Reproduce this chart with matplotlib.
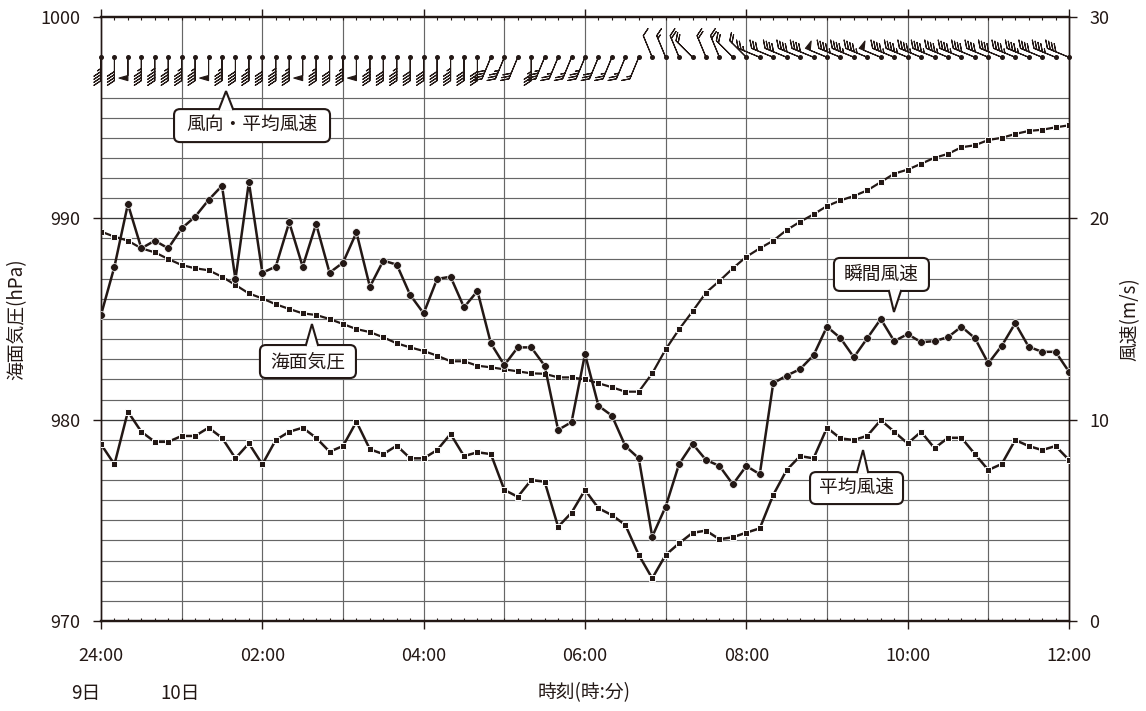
import numpy as np
import matplotlib
matplotlib.use('Agg')
import matplotlib.pyplot as plt
import matplotlib.transforms as mtransforms
from matplotlib.patches import FancyBboxPatch, Polygon
from matplotlib.lines import Line2D
from matplotlib.ticker import MultipleLocator

plt.rcParams['font.family'] = ['Noto Sans CJK JP', 'DejaVu Sans']

INK = '#231815'
GRID = '#666666'

# 10-minute observations, 24:00 (9th) .. 12:00 (10th)
minutes = np.arange(0, 721, 10)

pressure = [989.34, 989.09, 988.89, 988.51, 988.31, 987.98, 987.68, 987.52, 987.42, 987.10,
            986.69, 986.27, 986.02, 985.73, 985.50, 985.28, 985.20, 985.00, 984.75, 984.50,
            984.35, 984.09, 983.79, 983.59, 983.41, 983.18, 982.90, 982.90, 982.68, 982.60,
            982.50, 982.40, 982.30, 982.28, 982.10, 982.10, 982.00, 981.81, 981.61, 981.39,
            981.39, 982.30, 983.49, 984.49, 985.38, 986.31, 986.89, 987.52, 988.09, 988.51,
            988.89, 989.42, 989.83, 990.20, 990.61, 990.89, 991.11, 991.39, 991.80, 992.22,
            992.42, 992.71, 993.01, 993.20, 993.53, 993.63, 993.89, 994.00, 994.19, 994.34,
            994.40, 994.52, 994.62]

gust = [15.20, 17.60, 20.71, 18.51, 18.89, 18.51, 19.50, 20.08, 20.91, 21.62,
        16.97, 21.80, 17.30, 17.60, 19.80, 17.60, 19.72, 17.30, 17.80, 19.30,
        16.60, 17.90, 17.70, 16.19, 15.28, 16.99, 17.10, 15.58, 16.39, 13.79,
        12.71, 13.59, 13.59, 12.68, 9.49, 9.88, 13.26, 10.69, 10.20, 8.69,
        8.08, 4.19, 5.68, 7.80, 8.80, 8.00, 7.70, 6.79, 7.70, 7.29,
        11.81, 12.19, 12.51, 13.20, 14.62, 14.05, 13.10, 14.05, 15.00, 13.90,
        14.25, 13.85, 13.90, 14.10, 14.62, 14.05, 12.80, 13.67, 14.79, 13.62,
        13.37, 13.37, 12.38]

mean_wind = [8.78, 7.78, 10.40, 9.40, 8.90, 8.90, 9.19, 9.19, 9.60, 9.10,
             8.08, 8.82, 7.78, 8.99, 9.40, 9.60, 9.10, 8.41, 8.69, 9.90,
             8.53, 8.29, 8.71, 8.08, 8.08, 8.49, 9.29, 8.19, 8.38, 8.29,
             6.51, 6.17, 7.00, 6.92, 4.68, 5.38, 6.51, 5.60, 5.26, 4.77,
             3.28, 2.12, 3.28, 3.86, 4.38, 4.49, 4.06, 4.16, 4.39, 4.60,
             6.26, 7.50, 8.19, 8.08, 9.60, 9.07, 8.99, 9.20, 9.98, 9.40,
             8.82, 9.40, 8.58, 9.10, 9.10, 8.29, 7.50, 7.80, 8.99, 8.69,
             8.49, 8.69, 8.00]

wind_dir = ['S', 'S', 'S', 'S', 'S', 'S', 'S', 'S', 'S', 'S',
            'S', 'S', 'S', 'S', 'S', 'S', 'S', 'S', 'S', 'S',
            'S', 'S', 'S', 'S', 'S', 'S', 'S', 'S', 'S', 'SSW',
            'SSW', 'SSW', 'S', 'SSW', 'SSW', 'SSW', 'SSW', 'SSW', 'SSW', 'SSW',
            'SSW', 'NNW', 'NNW', 'NNW', 'NW', 'NNW', 'NNW', 'NW', 'NW', 'WNW',
            'WNW', 'WNW', 'WNW', 'WNW', 'WNW', 'WNW', 'WNW', 'WNW', 'WNW', 'WNW',
            'WNW', 'WNW', 'WNW', 'WNW', 'WNW', 'WNW', 'WNW', 'WNW', 'WNW', 'WNW',
            'WNW', 'WNW', 'WNW']

compass = {'S': 180.0, 'SSW': 202.5, 'NNW': 337.5, 'NW': 315.0, 'WNW': 292.5}

xticks = [0, 120, 240, 360, 480, 600, 720]
xticklabels = ['24:00', '02:00', '04:00', '06:00', '08:00', '10:00', '12:00']
p_ticks = [970, 980, 990, 1000]
w_ticks = [0, 10, 20, 30]

BARB_Y = 998.0
INC = dict(half=1, full=2, flag=10)

fig = plt.figure(figsize=(11.46, 7.11), dpi=100)
ax = fig.add_subplot(111)
fig.subplots_adjust(left=101 / 1146, right=1069 / 1146, top=1 - 17 / 711, bottom=1 - 621 / 711)
ax2 = ax.twinx()

ax.set_xlim(0, 720)
ax.set_ylim(970, 1000)
ax2.set_ylim(0, 30)

# grid
ax.vlines(np.arange(60, 720, 60), 970, 1000, color=GRID, lw=0.85, zorder=1)
ax.hlines(np.arange(971, 997), 0, 720, color=GRID, lw=0.85, zorder=1)
ax.hlines([980, 990], 0, 720, color='#3a3a3a', lw=0.85, zorder=1)

# series
ax.plot(minutes, pressure, color=INK, lw=1.6, marker='s', ms=4.8,
        mfc=INK, mec='white', mew=0.7, zorder=4)
ax2.plot(minutes, gust, color=INK, lw=1.8, marker='o', ms=5.6,
         mfc=INK, mec='white', mew=0.5, zorder=4)
ax2.plot(minutes, mean_wind, color=INK, lw=1.8, marker='s', ms=4.8,
         mfc=INK, mec='white', mew=0.7, zorder=4)

# wind barbs (feathered ones and pennant-only ones drawn with their own proportions)
theta = np.deg2rad([compass[d] for d in wind_dir])
spd = np.array(mean_wind)
u = -spd * np.sin(theta)
v = -spd * np.cos(theta)
has_flag = np.around(spd) >= INC['flag']
by = np.full(len(minutes), BARB_Y)
ax.barbs(minutes[~has_flag], by[~has_flag], u[~has_flag], v[~has_flag], length=5.8,
         pivot='tip', barb_increments=INC,
         sizes=dict(spacing=0.13, height=0.3, width=0.4),
         color=INK, linewidth=0.8, clip_on=False, zorder=5)
ax.barbs(minutes[has_flag], by[has_flag], u[has_flag], v[has_flag], length=5.8,
         pivot='tip', barb_increments=INC,
         sizes=dict(spacing=0.13, height=0.38, width=0.22),
         color=INK, linewidth=0.8, clip_on=False, zorder=5)
ax.plot(minutes, by, 'o', ms=2.6, color=INK, clip_on=False, zorder=5)

# axes styling
for a in (ax, ax2):
    for s in ['top', 'bottom']:
        a.spines[s].set_linewidth(1.6)
    for s in ['left', 'right']:
        a.spines[s].set_linewidth(1.0)
    for s in a.spines.values():
        s.set_color(INK)

ax.set_xticks(xticks)
ax.set_xticklabels(xticklabels)
ax.xaxis.set_minor_locator(MultipleLocator(10))
ax.tick_params(axis='x', which='major', direction='out', length=5.8, width=1.0,
               top=True, bottom=True, pad=13, labelsize=13, colors=INK)
ax.tick_params(axis='x', which='minor', direction='in', length=2.4, width=0.8,
               top=True, bottom=True, colors=INK)
ax.set_yticks(p_ticks)
ax.tick_params(axis='y', direction='out', length=5.8, width=1.0, pad=9,
               labelsize=13, colors=INK)
ax2.set_yticks(w_ticks)
ax2.tick_params(axis='y', direction='out', length=5.8, width=1.0, pad=9,
                labelsize=13, colors=INK)

fig.text(17 / 1146, 1 - 319 / 711, '海面気圧(hPa)', rotation=90, ha='center',
         va='center', fontsize=13.5, color=INK)
fig.text(1130 / 1146, 1 - 319 / 711, '風速(m/s)', rotation=90, ha='center',
         va='center', fontsize=13.5, color=INK)
fig.text(86 / 1146, 1 - 693 / 711, '9日', ha='center', va='center', fontsize=13.5, color=INK)
fig.text(180 / 1146, 1 - 693 / 711, '10日', ha='center', va='center', fontsize=13.5, color=INK)
fig.text(584 / 1146, 1 - 693 / 711, '時刻(時:分)', ha='center', va='center',
         fontsize=13.5, color=INK)


def callout(tip, box, base, text):
    # box/base in pixels relative to tip (y up); tip in pressure-axis data units
    tr = mtransforms.Affine2D().scale(fig.dpi / 100.0) + \
        mtransforms.ScaledTranslation(tip[0], tip[1], ax.transData)
    l, b, r, t = box
    ax2.add_patch(FancyBboxPatch((l, b), r - l, t - b,
                                 boxstyle='round,pad=0,rounding_size=6',
                                 transform=tr, fc='white', ec=INK, lw=1.5,
                                 zorder=10, clip_on=False))
    x0, x1 = base
    if t < 0:
        edge, inner = t, t - 1.6
    else:
        edge, inner = b, b + 1.6
    ax2.add_patch(Polygon([(x0, edge), (0, 0), (x1, edge), (x1, inner), (x0, inner)],
                          closed=True, transform=tr, fc='white', ec='none',
                          zorder=11, clip_on=False))
    ax2.add_line(Line2D([x0, 0, x1], [edge, 0, edge], transform=tr, color=INK,
                        lw=1.5, zorder=12, clip_on=False, solid_joinstyle='miter'))
    ax2.text((l + r) / 2, (b + t) / 2, text, transform=tr, ha='center', va='center',
             fontsize=13.5, color=INK, zorder=13)


callout((93.0, 996.32), (-52, -51, 104, -18), (-7, 7), '風向・平均風速')
callout((589.8, 985.35), (-60, 21, 35, 54), (-5, 7), '瞬間風速')
callout((156.9, 984.75), (-52, -54, 44, -21), (-6, 6), '海面気圧')
callout((566.8, 978.49), (-53, -54, 40, -22), (-6, 5), '平均風速')

fig.savefig('out.png', dpi=100)
